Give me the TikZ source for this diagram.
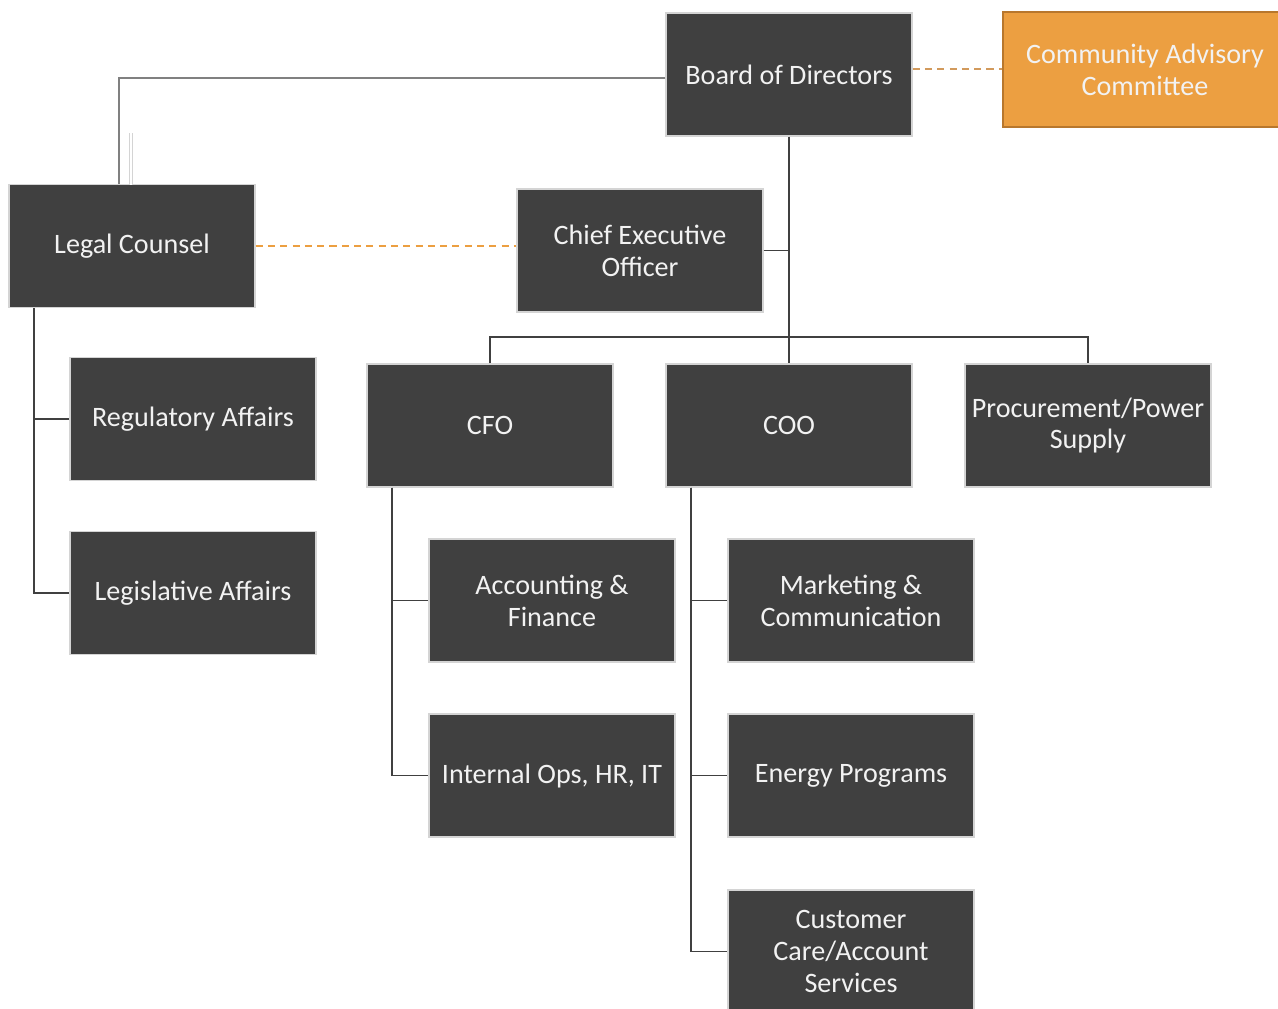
\documentclass[tikz,border=0pt]{standalone}
\usepackage{fontspec}
\setmainfont{Carlito}
\definecolor{boxgray}{HTML}{404040}
\definecolor{rimgray}{HTML}{D4D4D4}
\definecolor{linegray}{HTML}{404040}
\definecolor{paleline}{HTML}{808080}
\definecolor{advorange}{HTML}{EC9F41}
\definecolor{advrim}{HTML}{B8772D}
\definecolor{dashtan}{HTML}{D29A5C}
\begin{document}
\begin{tikzpicture}
    [x=0.02cm,y=-0.02cm,
     unit/.style={draw=rimgray,line width=0.8pt,fill=boxgray,text=white!95!black,
        minimum width=4.92cm,minimum height=2.46cm,align=center,inner sep=2pt,
        font=\fontsize{16}{18.1}\selectfont},
     advisory/.style={unit,draw=advrim,fill=advorange,minimum width=5.68cm,minimum height=2.3cm},
     tie/.style={draw=linegray,line width=1.1pt},
     liaison/.style={draw=advorange,line width=0.9pt,dash pattern=on 4pt off 3pt}]
		\useasboundingbox (0,0) rectangle (1278,1008);

		\node [unit] (board) at (789,74.5) {Board of Directors};
		\node [advisory] (advisory) at (1145,69.5) {Community Advisory\\Committee};
		\node [unit] (legal) at (132,246) {Legal Counsel};
		\node [unit] (ceo) at (640,250.5) {Chief Executive\\Officer};

		\node [unit] (regaff) at (193,419) {Regulatory Affairs};
		\node [unit] (legaff) at (193,593) {Legislative Affairs};

		\node [unit] (cfo) at (490,425.5) {CFO};
		\node [unit] (coo) at (789,425.5) {COO};
		\node [unit] (procure) at (1088,425.5) {Procurement/Power\\Supply};

		\node [unit] (accfin) at (552,600.5) {Accounting \&\\Finance};
		\node [unit] (intops) at (552,775.5) {Internal Ops, HR, IT};
		\node [unit] (marcom) at (851,600.5) {Marketing \&\\Communication};
		\node [unit] (energy) at (851,775.5) {Energy Programs};
		\node [unit] (care) at (851,951.5) {Customer\\Care/Account\\Services};

		\coordinate (bus) at (789,337);
		\draw[tie] (board) -- (bus);
		\draw[tie] (ceo.east) -- (ceo.east -| bus);
		\draw[tie] (cfo.north) |- (bus) -| (procure.north);
		\draw[tie] (bus) -- (coo.north);

		\draw[draw=paleline,line width=0.9pt] (board.west |- 0,78) -| (legal.north -| 119,0);
		\draw[draw=rimgray,double=white,line width=0.4pt,double distance=1.2pt] (131,133) -- (131,185);

		\draw[tie] (legal.south -| 34,0) |- (regaff.west);
		\draw[tie] (legal.south -| 34,0) |- (legaff.west);

		\draw[tie] (cfo.south -| 392,0) |- (accfin.west);
		\draw[tie] (cfo.south -| 392,0) |- (intops.west);

		\draw[tie] (coo.south -| 691,0) |- (marcom.west);
		\draw[tie] (coo.south -| 691,0) |- (energy.west);
		\draw[tie] (coo.south -| 691,0) |- (care.west);

		\draw[liaison] (legal.east) -- (ceo.west |- legal.east);
		\draw[liaison,draw=dashtan] (board.east |- 0,69) -- (advisory.west |- 0,69);
    \end{tikzpicture}
\end{document}
